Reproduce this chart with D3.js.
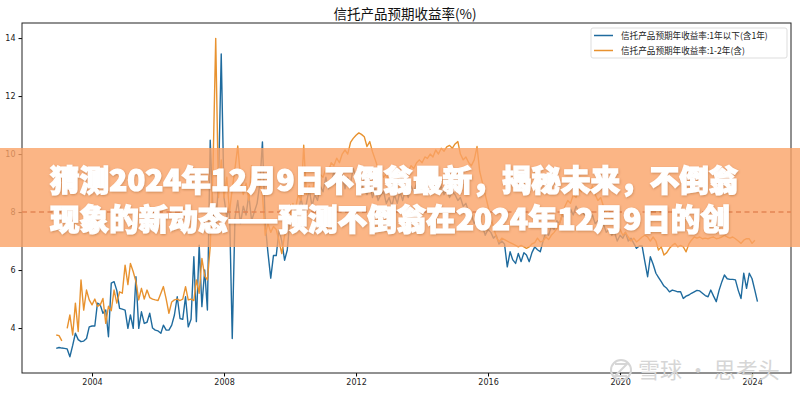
<!DOCTYPE html>
<meta charset="utf-8">
<style>
  body { margin: 0; background: #fff; }
  svg { display: block; }
  .tick text { font: 8px "DejaVu Sans", sans-serif; fill: #222; }
  .title { font: 13.5px "Noto Sans CJK SC", sans-serif; fill: #111; text-anchor: middle; }
  .legend text { font: 8.6px "Noto Sans CJK SC", sans-serif; fill: #222; }
  .banner text { font-family: "Noto Sans CJK SC", sans-serif; font-weight: 900; font-size: 29.6px; fill: #fff; stroke: #fff; stroke-width: 1.2px; }
  .mark text { font-family: "Noto Sans CJK SC", sans-serif; font-size: 22px; fill: #d6d6d6; }
</style>

<svg width="800" height="396"></svg>

<script src="https://d3js.org/d3.v7.min.js"></script>
<script>
  // monthly series, first value = Dec 2002
  var firstMonth = [2002, 11];

  var seriesNames = ["信托产品预期年收益率:1年以下(含1年)", "信托产品预期年收益率:1-2年(含)"];

  var shortTerm = [
    3.30,
    3.33, 3.31, 3.30, 3.28, 3.01, 3.40, 3.82, 3.60, 3.53, 3.55, 3.64, 4.04,
    4.07, 4.07, 4.86, 4.80, 4.51, 4.62, 3.70, 5.55, 5.60, 5.30, 4.68, 4.65,
    4.62, 3.99, 4.45, 3.99, 5.77, 3.99, 4.56, 4.16, 4.20, 4.51, 4.00, 3.93,
    3.90, 3.82, 4.10, 3.93, 3.93, 4.10, 4.45, 5.08, 4.33, 4.30, 5.08, 4.04,
    4.30, 6.46, 4.22, 6.86, 4.74, 6.00, 4.62, 10.48, 8.00, 7.50, 9.00, 13.45,
    8.50, 7.80, 8.20, 3.64, 7.80, 8.40, 7.60, 8.20, 7.90, 8.60, 7.70, 8.00,
    8.30, 9.00, 10.42, 7.60, 6.60, 5.72, 6.50, 6.50, 7.40, 7.00, 6.34, 6.69,
    7.80, 7.60, 8.20, 7.90, 8.50, 8.00, 8.30, 8.80, 8.20, 8.60, 8.40, 8.90,
    8.70, 9.20, 8.80, 9.00, 9.40, 8.90, 9.10, 9.30, 8.80, 9.20, 9.00, 9.50,
    9.20, 9.00, 8.80, 9.10, 8.60, 8.90, 8.50, 8.80, 8.40, 8.60, 8.70, 8.30,
    8.50, 8.20, 8.60, 8.30, 8.70, 8.40, 8.80, 8.50, 8.90, 8.70, 9.00, 8.80,
    9.10, 8.90, 9.20, 9.00, 8.80, 9.10, 8.70, 8.90, 8.60, 8.80, 8.50, 8.70,
    8.60, 8.40, 8.50, 8.20, 8.30, 8.00, 7.90, 7.60, 7.80, 7.40, 7.50, 7.20,
    7.40, 7.30, 7.10, 7.20, 6.90, 7.00, 6.90, 6.11, 6.63, 6.35, 6.23, 6.57,
    6.29, 6.60, 6.52, 6.29, 6.60, 6.80, 6.70, 6.63, 7.00, 7.30, 7.20, 7.50,
    7.40, 7.70, 7.60, 7.90, 7.80, 8.00, 8.10, 7.90, 8.20, 8.00, 8.10, 7.90,
    8.00, 7.80, 7.90, 7.60, 7.70, 7.50, 7.60, 7.30, 7.40, 7.20, 7.30, 7.00,
    7.20, 7.10, 7.30, 7.00, 7.10, 6.92, 6.75, 6.83, 6.83, 6.30, 5.77, 6.46,
    6.20, 5.89, 5.75, 5.60, 5.45, 5.37, 5.25, 5.31, 5.28, 5.25, 5.25, 5.02,
    5.10, 5.14, 5.20, 5.25, 5.30, 5.28, 5.20, 5.12, 5.08, 5.31, 5.10, 4.91,
    5.30, 5.60, 5.83, 5.70, 5.68, 5.68, 5.66, 5.30, 5.02, 5.89, 5.37, 5.89,
    5.70, 5.30, 4.91
  ];

  var midTerm = [
    3.76,
    3.74, 3.56, null, 3.99, 4.45, 3.76, 4.86, 3.88, 5.66, 4.62, 5.31, 4.97,
    4.80, 5.00, 4.75, 4.80, 5.02, 4.16, 4.75, 4.60, 5.31, 4.86, 5.25, 5.20,
    6.17, 5.50, 6.23, 5.94, 5.60, 4.97, 5.37, 5.00, 5.31, 5.05, 5.00, 4.97,
    4.95, 5.20, 5.43, 5.00, 4.51, 4.90, 4.97, 5.00, 4.95, 5.00, 5.43, 4.97,
    5.00, 4.95, 5.66, 5.20, 6.40, 5.80, 5.66, 6.80, 9.50, 13.99, 8.50, 9.80,
    8.50, 9.20, 8.00, 8.80, 9.50, 10.28, 9.20, 8.60, 9.00, 8.40, 9.60, 8.80,
    9.30, 9.00, 8.60, 7.20, 7.60, 7.30, 7.50, 7.40, 7.00, 6.57, 7.20, 7.60,
    7.90, 8.30, 8.10, 8.60, 8.40, 10.31, 8.60, 8.90, 8.70, 9.10, 8.90, 9.30,
    9.20, 9.50, 9.40, 9.70, 9.60, 9.86, 9.70, 10.00, 10.14, 10.00, 10.40, 10.54,
    10.65, 10.73, 10.68, 10.60, 10.26, 10.43, 10.08, 9.80, 9.50, 9.40, 9.20, 9.30,
    9.00, 9.20, 8.90, 9.10, 9.30, 9.00, 9.20, 9.40, 9.60, 9.50, 9.70, 9.80,
    9.70, 9.90, 9.85, 10.00, 9.90, 10.14, 10.00, 10.20, 10.10, 10.25, 10.30, 10.20,
    10.35, 10.43, 10.00, 9.80, 9.90, 9.70, 9.60, 9.80, 10.26, 9.40, 9.00, 8.60,
    8.20, 7.80, 7.50, 7.14, 6.97, 7.10, 7.05, 7.00, 6.95, 6.90, 6.85, 6.80,
    6.85, 6.80, 6.75, 6.80, 6.90, 6.95, 7.10, 6.97, 7.00, 7.14, 7.05, 7.20,
    7.30, 7.43, 7.60, 7.90, 8.20, 8.40, 8.30, 8.60, 8.50, 8.80, 8.70, 8.90,
    8.80, 8.70, 8.90, 8.60, 8.40, 8.50, 8.20, 8.00, 8.10, 7.80, 7.60, 7.50,
    7.40, 7.20, 7.30, 7.14, 7.00, 7.10, 6.97, 7.05, 7.14, 7.20, 7.14, 7.00,
    7.14, 7.00, 6.69, 6.80, 6.52, 6.60, 6.75, 6.85, 6.92, 6.80, 6.85, 6.80,
    6.63, 6.90, 7.03, 7.14, 7.10, 7.14, 7.08, 7.10, 7.08, 7.12, 7.14, 7.08,
    7.10, 7.14, 7.20, 7.14, 7.10, 7.14, 7.08, 7.00, 6.92, 7.03, 7.08, 7.08,
    6.92, 7.03
  ];

  var yTicks = [4, 6, 8, 10, 12, 14];
  var refLevel = 8;
  var colors = ["#1f6b9e", "#e8922f"];

  var titleText = "信托产品预期收益率(%)";
  var bannerLines = [
    "猜测2024年12月9日不倒翁最新，揭秘未来，不倒翁",
    "现象的新动态——预测不倒翁在2024年12月9日的创"
  ];
  var markText = "雪球 · 思考头";

  var svg = d3.select("svg");
  var plotL = 22, plotR = 791, plotT = 23, plotB = 373;

  var x = d3.scaleTime()
    .domain([new Date(2001, 10, 17), new Date(2025, 2, 7)])
    .range([plotL, plotR]);
  var y = d3.scaleLinear()
    .domain([2.45, 14.52])
    .range([plotB, plotT]);

  function toPoints(vals) {
    return vals.map(function (v, i) {
      return { date: new Date(firstMonth[0], firstMonth[1] + i, 1), value: v };
    });
  }

  var line = d3.line()
    .defined(function (d) { return d.value != null; })
    .x(function (d) { return x(d.date); })
    .y(function (d) { return y(d.value); });

  svg.append("text").attr("class", "title")
    .attr("x", 405).attr("y", 19).text(titleText);

  // axes
  svg.append("g")
    .attr("transform", "translate(0," + plotB + ")")
    .call(d3.axisBottom(x).ticks(d3.timeYear.every(4)).tickFormat(d3.timeFormat("%Y")).tickSize(3.5).tickPadding(3))
    .call(function (g) { g.select(".domain").remove(); });
  svg.append("g")
    .attr("transform", "translate(" + plotL + ",0)")
    .call(d3.axisLeft(y).tickValues(yTicks).tickSize(3.5).tickPadding(3))
    .call(function (g) { g.select(".domain").remove(); });

  var series = [shortTerm, midTerm];
  svg.append("g").selectAll("path")
    .data(series)
    .enter().append("path")
    .attr("d", function (d) { return line(toPoints(d)); })
    .attr("fill", "none")
    .attr("stroke", function (d, i) { return colors[i]; })
    .attr("stroke-width", 1.4)
    .attr("stroke-linejoin", "round");

  svg.append("rect")
    .attr("x", plotL).attr("y", plotT)
    .attr("width", plotR - plotL).attr("height", plotB - plotT)
    .attr("fill", "none").attr("stroke", "#222").attr("stroke-width", 1);

  // legend
  var legend = svg.append("g").attr("class", "legend");
  legend.append("rect")
    .attr("x", 591).attr("y", 28).attr("width", 196).attr("height", 30)
    .attr("rx", 2).attr("fill", "#fff").attr("stroke", "#ddd");
  seriesNames.forEach(function (name, i) {
    var ly = 35.5 + i * 15;
    legend.append("line")
      .attr("x1", 594).attr("x2", 613).attr("y1", ly).attr("y2", ly)
      .attr("stroke", colors[i]).attr("stroke-width", 1.5);
    legend.append("text").attr("x", 621).attr("y", ly + 3).text(name);
  });

  // dashed reference line
  svg.append("line")
    .attr("x1", plotL).attr("x2", plotR)
    .attr("y1", y(refLevel)).attr("y2", y(refLevel))
    .attr("stroke", "#8a1208").attr("stroke-width", 1.5)
    .attr("stroke-dasharray", "5,3.5");

  // overlay banner
  var defs = svg.append("defs");
  var f = defs.append("filter").attr("id", "shadow").attr("height", "150%");
  f.append("feDropShadow").attr("dx", 0.5).attr("dy", 1).attr("stdDeviation", 1)
    .attr("flood-color", "#7a3a10").attr("flood-opacity", 0.35);

  var banner = svg.append("g").attr("class", "banner");
  banner.append("rect")
    .attr("x", 0).attr("y", 148).attr("width", 800).attr("height", 99)
    .attr("fill", "rgb(250,163,103)").attr("fill-opacity", 0.8)
    .attr("stroke", "none");
  banner.selectAll("text")
    .data(bannerLines)
    .enter().append("text")
    .attr("x", 50)
    .attr("y", function (d, i) { return 191 + i * 39; })
    .attr("filter", "url(#shadow)")
    .text(function (d) { return d; });

  // watermark
  var mark = svg.append("g").attr("class", "mark");
  mark.append("circle").attr("cx", 621).attr("cy", 370).attr("r", 10)
    .attr("fill", "none").attr("stroke", "#d6d6d6").attr("stroke-width", 2);
  mark.append("path").attr("d", "M615,364 L627,364 L615,376 L627,376")
    .attr("fill", "none").attr("stroke", "#d6d6d6").attr("stroke-width", 2);
  mark.append("text").attr("x", 638).attr("y", 378).text(markText);
</script>
